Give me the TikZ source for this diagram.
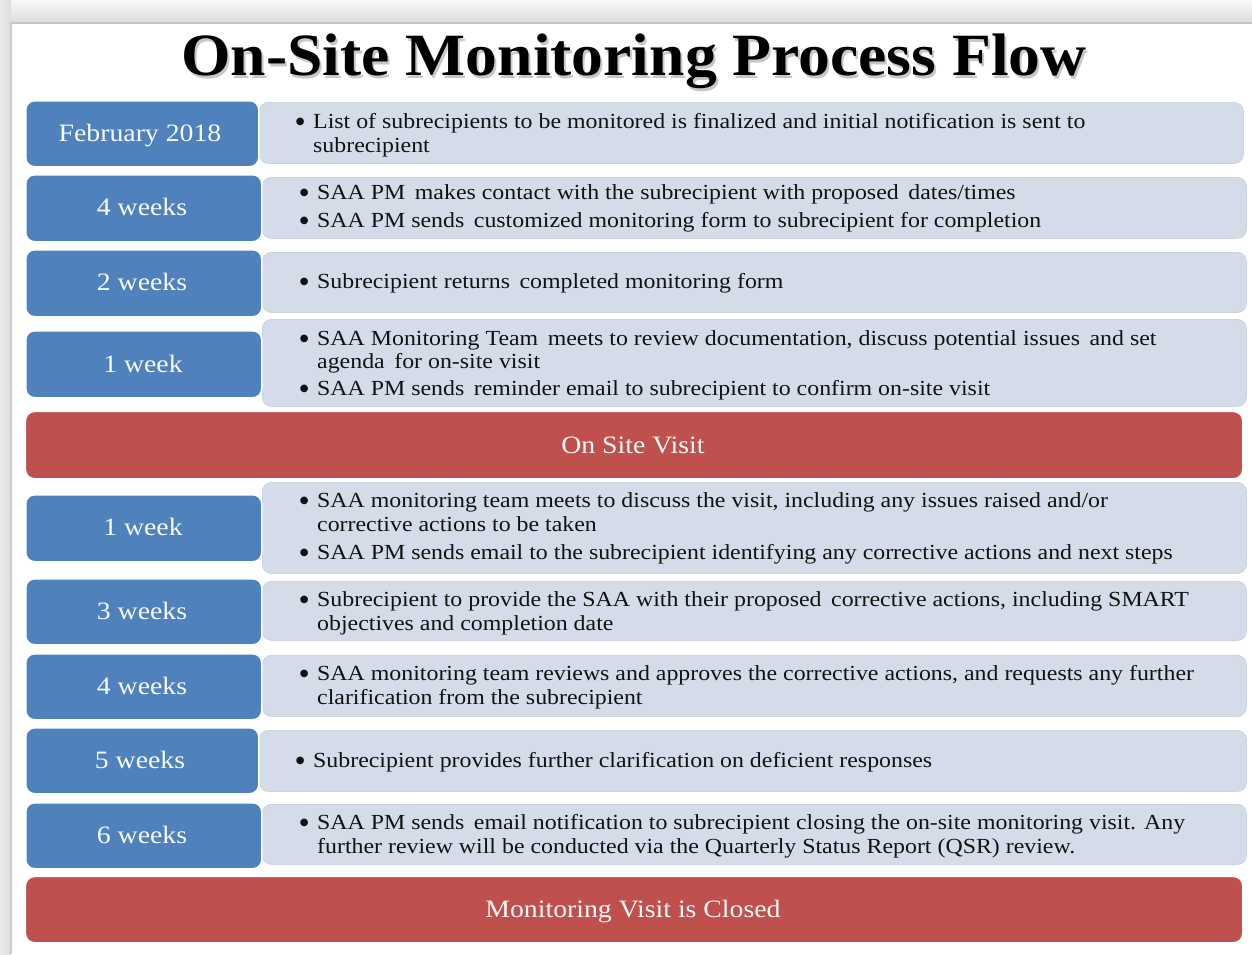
\documentclass[tikz,border=0pt]{standalone}
\usepackage{fontspec}
\setmainfont{Liberation Serif}[FakeStretch=1.11]
\newfontfamily\headfont{Liberation Serif}[FakeStretch=1.06]
\newfontfamily\dotfont{DejaVu Sans}
\definecolor{blueC}{HTML}{4F81BD}
\definecolor{paleC}{HTML}{D4DCE9}
\definecolor{paleD}{HTML}{CBD4E3}
\definecolor{redC}{HTML}{C0504D}
\definecolor{inkC}{HTML}{121212}
\tikzset{
  x=1pt, y=-1pt,
  period/.style={rectangle, rounded corners=9pt, fill=blueC, draw=white, line width=1.5pt,
    anchor=north west, inner sep=0pt},
  detail/.style={rectangle, rounded corners=9pt, fill=paleC, draw=paleD, line width=0.8pt,
    anchor=north west, inner sep=0pt},
  milestone/.style={rectangle, rounded corners=9pt, fill=redC, draw=white, line width=1.2pt,
    anchor=north west, inner sep=0pt},
  plabel/.style={anchor=base, inner sep=0pt, text=white!96!blueC, font=\fontsize{25}{30}\selectfont},
  mlabel/.style={anchor=base, inner sep=0pt, text=white!96!redC, font=\fontsize{25}{30}\selectfont},
  line/.style={anchor=base west, inner sep=0pt, text=inkC, font=\fontsize{21.5}{26}\selectfont},
  heading/.style={anchor=base, inner sep=0pt, font=\headfont\fontsize{60}{70}\selectfont\bfseries},
}
% box helper: style, name, left, top, right, bottom
\newcommand\panel[6]{\node[#1, minimum width={(#5)-(#3)}, minimum height={(#6)-(#4)}] (#2) at (#3,#4) {};}
% round list bullet followed by a fixed gap
\newcommand\bul{\makebox[17pt][l]{\makebox[8pt]{\raisebox{3.4pt}{\dotfont\fontsize{10}{10}\selectfont ●}}}}
% heading text with a soft grey copy set behind it
\newcommand\shadowed[1]{\makebox[0pt][l]{\hspace{2pt}\raisebox{-3pt}{\color{black!22}#1}}#1}
\begin{document}
\begin{tikzpicture}
\useasboundingbox (0,0) rectangle (1252,954);
% page and its frame
\fill[white] (0,0) rectangle (1252,954);
\shade[top color=gray!6, bottom color=gray!26] (0,0) rectangle (1252,22);
\shade[left color=gray!16, right color=gray!26] (0,0) rectangle (11,954);
\fill[gray!45] (10,22) rectangle (1252,24);
\fill[gray!40] (10,22) rectangle (12,954);

% title
\node[heading, text=black] (title) at (634,75) {\shadowed{On-Site Monitoring Process Flow}};

% detail panels
\panel{detail}{d1}{259}{102}{1243}{163}
\panel{detail}{d2}{262}{177}{1246}{238}
\panel{detail}{d3}{262}{252}{1246}{312}
\panel{detail}{d4}{262}{319}{1246}{406}
\panel{detail}{d5}{262}{482}{1246}{573}
\panel{detail}{d6}{262}{581}{1246}{640}
\panel{detail}{d7}{262}{655}{1246}{716}
\panel{detail}{d8}{259}{730}{1246}{791}
\panel{detail}{d9}{262}{804}{1246}{864}

% period boxes
\panel{period}{p1}{25}{100}{258}{166}
\panel{period}{p2}{25}{174}{261}{241}
\panel{period}{p3}{25}{249}{261}{316}
\panel{period}{p4}{25}{330}{261}{397}
\panel{period}{p5}{25}{494}{261}{561}
\panel{period}{p6}{25}{578}{261}{644}
\panel{period}{p7}{25}{653}{261}{719}
\panel{period}{p8}{25}{727}{258}{793}
\panel{period}{p9}{25}{802}{261}{868}

% milestone bars
\panel{milestone}{m1}{25}{411}{1242}{478}
\panel{milestone}{m2}{25}{876}{1242}{942}

% period labels
\node[plabel] (l1) at (140,141) {February 2018};
\node[plabel] (l2) at (142,215) {4 weeks};
\node[plabel] (l3) at (142,290) {2 weeks};
\node[plabel] (l4) at (143,372) {1 week};
\node[plabel] (l5) at (143,535) {1 week};
\node[plabel] (l6) at (142,619) {3 weeks};
\node[plabel] (l7) at (142,694) {4 weeks};
\node[plabel] (l8) at (140,768) {5 weeks};
\node[plabel] (l9) at (142,843) {6 weeks};
\node[mlabel] (ml1) at (633,453) {On Site Visit};
\node[mlabel] (ml2) at (633,917) {Monitoring Visit is Closed};

% panel text
\node[line] (t1a) at (296,128) {\bul List of subrecipients to be monitored is finalized and initial notification is sent to};
\node[line] (t1b) at (313,152) {subrecipient};
\node[line] (t2a) at (300,199) {\bul SAA PM\, makes contact with the subrecipient with proposed\, dates/times};
\node[line] (t2b) at (300,227) {\bul SAA PM sends\, customized monitoring form to subrecipient for completion};
\node[line] (t3a) at (300,288) {\bul Subrecipient returns\, completed monitoring form};
\node[line] (t4a) at (300,345) {\bul SAA Monitoring Team\, meets to review documentation, discuss potential issues\, and set};
\node[line] (t4b) at (317,368) {agenda\, for on-site visit};
\node[line] (t4c) at (300,395) {\bul SAA PM sends\, reminder email to subrecipient to confirm on-site visit};
\node[line] (t5a) at (300,507) {\bul SAA monitoring team meets to discuss the visit, including any issues raised and/or};
\node[line] (t5b) at (317,531) {corrective actions to be taken};
\node[line] (t5c) at (300,559) {\bul SAA PM sends email to the subrecipient identifying any corrective actions and next steps};
\node[line] (t6a) at (300,606) {\bul Subrecipient to provide the SAA with their proposed\, corrective actions, including SMART};
\node[line] (t6b) at (317,630) {objectives and completion date};
\node[line] (t7a) at (300,680) {\bul SAA monitoring team reviews and approves the corrective actions, and requests any further};
\node[line] (t7b) at (317,704) {clarification from the subrecipient};
\node[line] (t8a) at (296,767) {\bul Subrecipient provides further clarification on deficient responses};
\node[line] (t9a) at (300,829) {\bul SAA PM sends\, email notification to subrecipient closing the on-site monitoring visit. Any};
\node[line] (t9b) at (317,853) {further review will be conducted via the Quarterly Status Report (QSR) review.};
\end{tikzpicture}
\end{document}
